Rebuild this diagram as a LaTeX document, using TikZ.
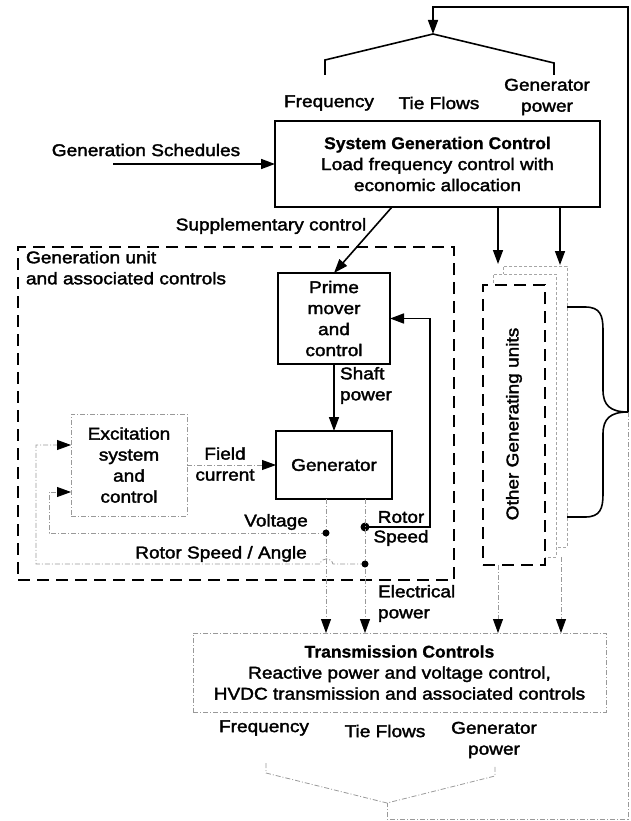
\documentclass[tikz,border=0pt]{standalone}
\usepackage{fontspec}
\setmainfont{Liberation Sans}[FakeStretch=1.12,FakeBold=2]
\newfontfamily\hdfont{Liberation Sans}[FakeStretch=1.03,BoldFeatures={FakeBold=1}]
\usetikzlibrary{arrows.meta}
\begin{document}
\begin{tikzpicture}[x=1pt,y=-1pt,
  every node/.style={font=\fontsize{17}{21}\selectfont, inner sep=0pt, outer sep=0pt},
  blk/.style={draw, line width=1.6pt, align=center},
  sol/.style={line width=1.6pt},
  arr/.style={-{Triangle[length=14pt,width=10pt]}},
  dd/.style={draw=gray!80, line width=0.8pt, dash pattern=on 5pt off 2pt on 1pt off 2pt},
  ddarr/.style={dd, -{Triangle[length=14pt,width=10pt,black]}},
  bigdash/.style={draw, line width=2pt, dash pattern=on 12pt off 7pt},
  thindash/.style={draw=gray!70, line width=0.8pt, dash pattern=on 3pt off 2pt, fill=white},
  hd/.style={font=\hdfont\bfseries\fontsize{17}{21}\selectfont}
]
\useasboundingbox (0,0) rectangle (631,821);

% main boxes
\node[blk, minimum width=325pt, minimum height=86pt] (sgc) at (437.5,164)
  {{\hdfont\bfseries System Generation Control}\\Load frequency control with\\economic allocation};
\node[bigdash, minimum width=436pt, minimum height=333pt] (gu) at (236,413.5) {};
\node[blk, minimum width=112pt, minimum height=91pt] (pm) at (334,318.5) {Prime\\mover\\and\\control};
\node[blk, minimum width=116pt, minimum height=68pt] (gen) at (334,465) {Generator};
\node[dd, minimum width=116pt, minimum height=102pt, align=center] (exc) at (129,465) {Excitation\\system\\and\\control};
\node[dd, minimum width=413pt, minimum height=79pt, align=center] (tc) at (399.5,672.5)
  {{\hdfont\bfseries Transmission Controls}\\Reactive power and voltage control,\\HVDC transmission and associated controls};

% other generating units
\node[thindash, minimum width=64pt, minimum height=281pt] (og3) at (535,406.5) {};
\node[thindash, minimum width=63pt, minimum height=283pt] (og2) at (524.5,415.5) {};
\node[bigdash, fill=white, minimum width=62pt, minimum height=280pt] (og1) at (514,425) {};
\node[rotate=90] (ogt) at (514,424) {Other Generating units};

% labels
\node (f1) at (329,103) {Frequency};
\node (t1) at (439,103) {Tie Flows};
\node[align=center] (g1) at (547,97) {Generator\\power};
\node (gs) at (146,150) {Generation Schedules};
\node (sup) at (271,226) {Supplementary control};
\node[align=left, anchor=north west] (gul) at (26,251) {Generation unit\\and associated controls};
\node[align=left, anchor=north west] (sh) at (340,367) {Shaft\\power};
\node[align=center] (fc) at (225,464) {Field\\current};
\node (ro) at (401,517) {Rotor};
\node (sp) at (401,538) {Speed};
\node (vo) at (276,522) {Voltage};
\node (rsa) at (221,554) {Rotor Speed / Angle};
\node[align=left, anchor=north west] (ep) at (378,585) {Electrical\\power};
\node (f2) at (264,728) {Frequency};
\node (t2) at (385,731) {Tie Flows};
\node[align=center] (g2) at (494,740) {Generator\\power};

% coordinates
\coordinate (brtip) at (628,412);
\coordinate (gsin) at (113,164);
\coordinate (sup0) at (392,207);
\coordinate (a1) at (498,207);
\coordinate (a2) at (560,207);
\coordinate (v1) at (326,499);
\coordinate (v2) at (365,499);

% top feedback and bracket
\draw[sol, arr] (brtip) -- (628,7) -- (433,7) -- (433,34);
\draw[sol, line join=miter] (325,75) -- (325,60) -- (433,34) -- (554,63) -- (554,75);

% bottom feedback and bracket
\draw[dd] (brtip) -- (628,819) -- (387,819) -- (387,803);
\draw[dd] (266,763) -- (266,773) -- (387,803) -- (495,776) -- (495,765);

% brace
\draw[sol] (og3.east |- 0,307) -- (585,307) .. controls (600,307) and (603,315) .. (603,330)
  -- (603,390) .. controls (603,405) and (610,412) .. (brtip)
  .. controls (610,412) and (603,419) .. (603,434)
  -- (603,494) .. controls (603,509) and (600,517) .. (585,517) -- (og3.east |- 0,517);

% solid connectors
\draw[sol, arr] (gsin) -- (sgc.west);
\draw[sol, arr] (sup0) -- (pm.north);
\draw[sol, arr] (a1) -- (498,264);
\draw[sol, arr] (a2) -- (560,265);
\draw[sol, arr] (pm.south) -- (gen.north);
\draw[sol, arr] (365,527) -- (430,527) -- (430,318.5) -- (pm.east);
\fill (365,527) circle (4.5pt);

% dash-dot connectors
\draw[ddarr] (exc.east) -- (gen.west);
\draw[ddarr] (v1) -- (326,633);
\draw[ddarr] (v2) -- (365,633);
\draw[ddarr] (326,533) -- (49,533) -- (49,492) -- (71,492);
\draw[ddarr] (365,564) -- (333,564) .. controls (331,557) and (322,557) .. (320,564) -- (36,564) -- (36,445) -- (71,445);
\fill (326,533) circle (3.5pt);
\fill (365,564) circle (3.5pt);
\draw[ddarr] (498,565) -- (498,633);
\draw[ddarr] (561,557) -- (561,633);
\end{tikzpicture}
\end{document}
